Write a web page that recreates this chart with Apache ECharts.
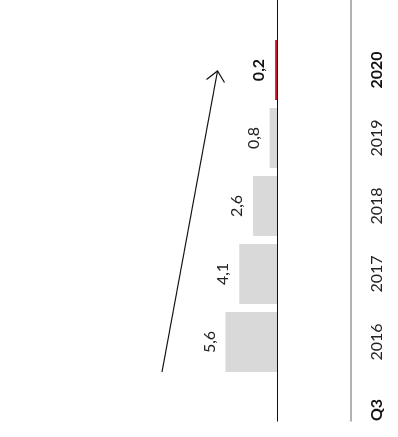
<!DOCTYPE html>
<html>
<head>
<meta charset="utf-8">
<script src="https://cdn.jsdelivr.net/npm/echarts@6/dist/echarts.min.js"></script>
<style>
html,body{margin:0;padding:0;background:#fff;}
#main{width:398px;height:437px;}
</style>
</head>
<body>
<div id="main"></div>
<script>
const categories = ['Q3', '2016', '2017', '2018', '2019', '2020'];
const values = [null, 5.6, 4.1, 2.6, 0.8, 0.2];
const boldCategories = ['Q3', '2020'];
const highlightCategory = '2020';

const FONT = 'Lato';
const RED = '#c8102e';
const GREY_BAR = '#d9d9d9';

const seriesData = values.map((v, i) => {
  if (categories[i] === highlightCategory) {
    return { value: v, itemStyle: { color: RED }, label: { fontWeight: 'bold', color: '#111' } };
  }
  return v;
});

const chart = echarts.init(document.getElementById('main'), null, { renderer: 'canvas' });
chart.setOption({
  animation: false,
  backgroundColor: '#fff',
  grid: { left: 1, right: 121, top: 70, bottom: 27, containLabel: false },
  xAxis: {
    type: 'value', inverse: true, min: 0, max: 30,
    show: false
  },
  yAxis: {
    type: 'category', data: categories, position: 'right', boundaryGap: false,
    axisLine: { show: false }, axisTick: { show: false }, splitLine: { show: false },
    axisLabel: {
      interval: 0, hideOverlap: false,
      rotate: 90, margin: 100, align: 'center', verticalAlign: 'middle',
      fontFamily: FONT, fontSize: 16, color: '#222',
      formatter: v => boldCategories.includes(v) ? '{b|' + v + '}' : v,
      rich: { b: { fontWeight: 'bold', fontFamily: FONT, fontSize: 16, color: '#111' } }
    }
  },
  series: [{
    type: 'bar', data: seriesData, barWidth: 60, clip: false,
    itemStyle: { color: GREY_BAR },
    label: {
      show: true, position: 'left', distance: 8, rotate: 90,
      align: 'center', verticalAlign: 'bottom', lineHeight: 16,
      fontFamily: FONT, fontSize: 16, color: '#222',
      formatter: p => p.value == null ? '' : String(p.value).replace('.', ',')
    }
  }]
});

const x0 = chart.convertToPixel({ xAxisIndex: 0 }, 0);
chart.setOption({
  graphic: [
    { type: 'line', shape: { x1: x0 + 0.5, y1: 0, x2: x0 + 0.5, y2: 421.5 }, style: { stroke: '#111', lineWidth: 1 }, z: 10 },
    { type: 'line', shape: { x1: 351, y1: 0, x2: 351, y2: 421.5 }, style: { stroke: '#999', lineWidth: 1.5 }, z: 10 },
    { type: 'line', shape: { x1: 162, y1: 372, x2: 217.5, y2: 71 }, style: { stroke: '#111', lineWidth: 1.2 }, z: 10 },
    { type: 'polyline', shape: { points: [[206.5, 79.5], [217.5, 71], [224.5, 82.5]] }, style: { stroke: '#111', lineWidth: 1.2, fill: null }, z: 10 }
  ]
});
</script>
</body>
</html>
